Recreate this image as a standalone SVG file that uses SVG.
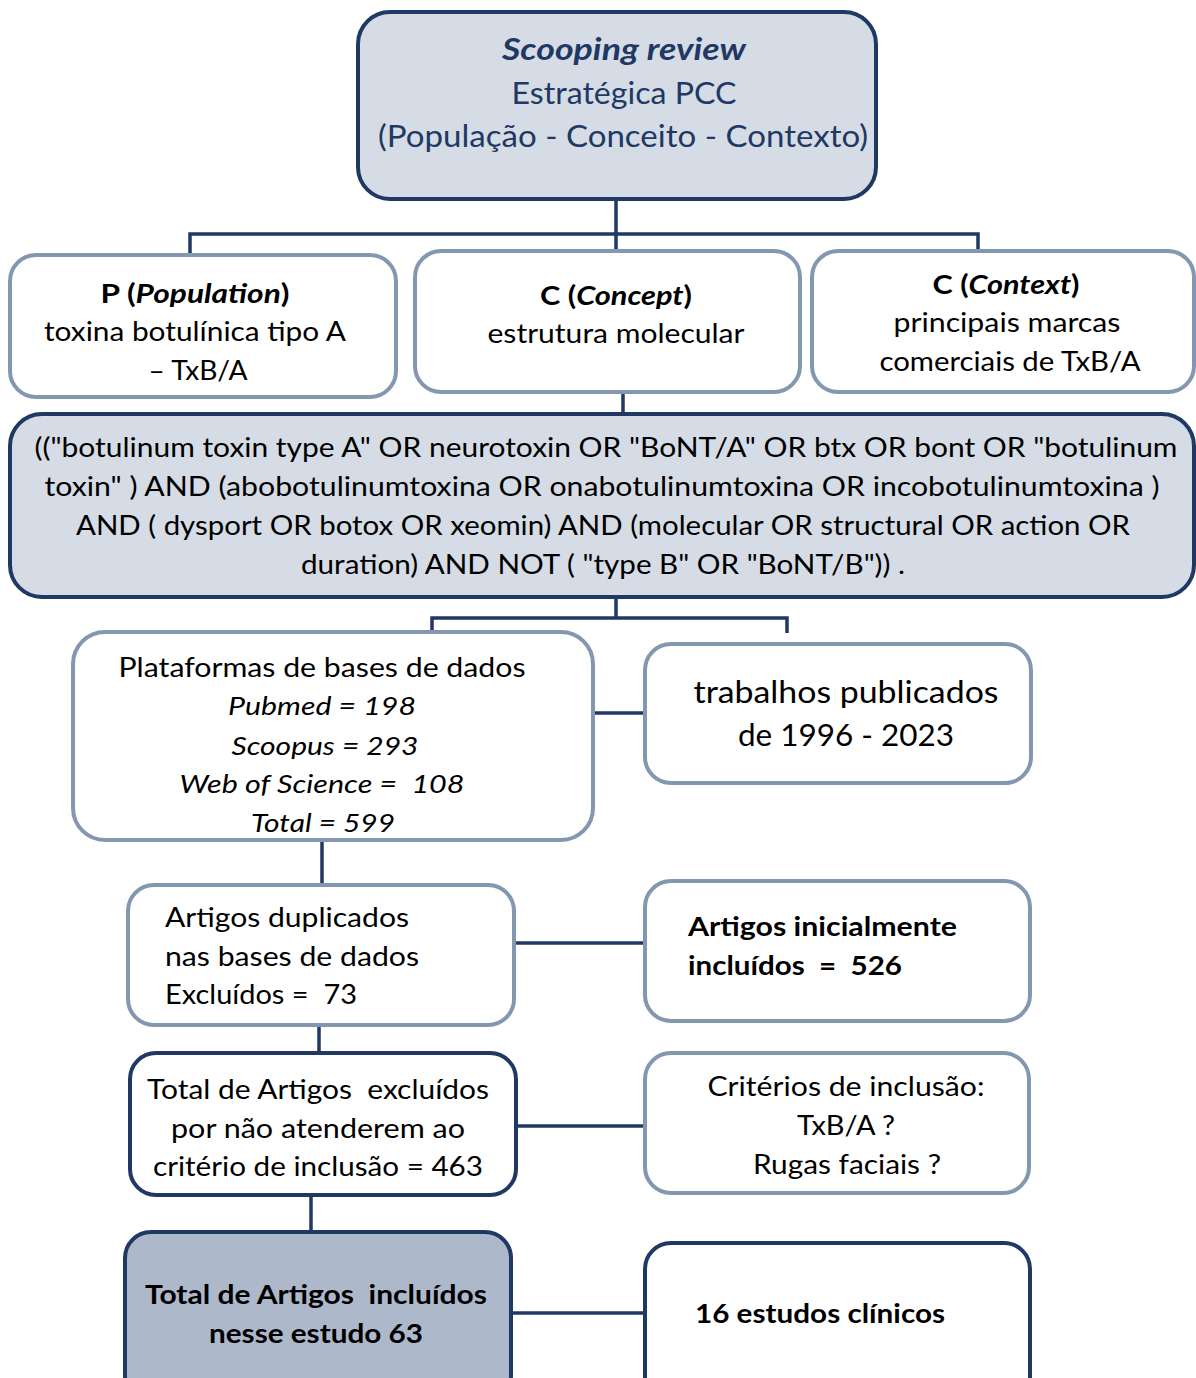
<svg xmlns="http://www.w3.org/2000/svg" width="1196" height="1378" viewBox="0 0 1196 1378">
<style>
text{font-family:Lato,"Open Sans","Liberation Sans",sans-serif;fill:#000;}
.c{text-anchor:middle;}
.s26{font-size:26px;}
.s25{font-size:25px;}
.s28{font-size:28px;}
.s30{font-size:30px;}
.b{font-weight:bold;}
.i{font-style:italic;}
.navy{fill:#1f3864;}
.dark{fill:#d6dce5;stroke:#203864;stroke-width:4;}
.light{fill:#ffffff;stroke:#8497b0;stroke-width:4;}
.strong{fill:#ffffff;stroke:#203864;stroke-width:4;}
.final{fill:#adb9ca;stroke:#203864;stroke-width:4;}
.conn{fill:none;stroke:#203864;stroke-width:3.5;}
</style>
<rect width="1196" height="1378" fill="#ffffff"/>
<g id="connectors">
<path class="conn" d="M616 199 V234 M190 255 V234 H978 V251 M616 234 V251"/>
<path class="conn" d="M623 392 V414"/>
<path class="conn" d="M616 597 V618 M432 632 V618 H787 V633"/>
<path class="conn" d="M593 713 H645"/>
<path class="conn" d="M322 840 V885"/>
<path class="conn" d="M514 943 H645"/>
<path class="conn" d="M319 1025 V1053"/>
<path class="conn" d="M516 1126 H645"/>
<path class="conn" d="M311 1195 V1232"/>
<path class="conn" d="M511 1313 H645"/>
</g>
<g id="node-scoping">
<rect class="dark" x="358" y="12" width="518" height="187" rx="32"/>
<text class="c s30 b i navy" x="624" y="60" textLength="244" lengthAdjust="spacingAndGlyphs">Scooping review</text>
<text class="c s30 navy" x="624" y="104" textLength="225" lengthAdjust="spacingAndGlyphs">Estratégica PCC</text>
<text class="c s30 navy" x="623" y="147" textLength="490" lengthAdjust="spacingAndGlyphs">(População - Conceito - Contexto)</text>
</g>
<g id="node-population">
<rect class="light" x="10" y="255" width="386" height="142" rx="26"/>
<text class="c s26" x="195" y="303" textLength="189" lengthAdjust="spacingAndGlyphs"><tspan class="b">P (</tspan><tspan class="b i">Population</tspan><tspan class="b">)</tspan></text>
<text class="c s26" x="195" y="341" textLength="302" lengthAdjust="spacingAndGlyphs">toxina botulínica tipo A</text>
<text class="c s26" x="198" y="380" textLength="99" lengthAdjust="spacingAndGlyphs">– TxB/A</text>
</g>
<g id="node-concept">
<rect class="light" x="415" y="251" width="385" height="141" rx="26"/>
<text class="c s26" x="616" y="305" textLength="152" lengthAdjust="spacingAndGlyphs"><tspan class="b">C (</tspan><tspan class="b i">Concept</tspan><tspan class="b">)</tspan></text>
<text class="c s26" x="616" y="343" textLength="257" lengthAdjust="spacingAndGlyphs">estrutura molecular</text>
</g>
<g id="node-context">
<rect class="light" x="812" y="251" width="382" height="141" rx="26"/>
<text class="c s26" x="1006" y="294" textLength="147" lengthAdjust="spacingAndGlyphs"><tspan class="b">C (</tspan><tspan class="b i">Context</tspan><tspan class="b">)</tspan></text>
<text class="c s26" x="1007" y="332" textLength="227" lengthAdjust="spacingAndGlyphs">principais marcas</text>
<text class="c s26" x="1010" y="371" textLength="261" lengthAdjust="spacingAndGlyphs">comerciais de TxB/A</text>
</g>
<g id="node-query">
<rect class="dark" x="10" y="414" width="1184" height="183" rx="32"/>
<text class="c s26" x="606" y="457" textLength="1143" lengthAdjust="spacingAndGlyphs">(("botulinum toxin type A" OR neurotoxin OR "BoNT/A" OR btx OR bont OR "botulinum</text>
<text class="c s26" x="602" y="496" textLength="1115" lengthAdjust="spacingAndGlyphs">toxin" ) AND (abobotulinumtoxina OR onabotulinumtoxina OR incobotulinumtoxina )</text>
<text class="c s26" x="603" y="535" textLength="1054" lengthAdjust="spacingAndGlyphs">AND ( dysport OR botox OR xeomin) AND (molecular OR structural OR action OR</text>
<text class="c s26" x="603" y="574" textLength="604" lengthAdjust="spacingAndGlyphs">duration) AND NOT ( "type B" OR "BoNT/B")) .</text>
</g>
<g id="node-plataformas">
<rect class="light" x="73" y="632" width="520" height="208" rx="32"/>
<text class="c s26" x="322" y="677" textLength="407" lengthAdjust="spacingAndGlyphs">Plataformas de bases de dados</text>
<text class="c s26 i" x="322" y="715" textLength="188" lengthAdjust="spacingAndGlyphs">Pubmed = 198</text>
<text class="c s26 i" x="325" y="755" textLength="187" lengthAdjust="spacingAndGlyphs">Scoopus = 293</text>
<text class="c s26 i" x="322" y="793" textLength="285" lengthAdjust="spacingAndGlyphs" xml:space="preserve">Web of Science =  108</text>
<text class="c s26 i" x="323" y="832" textLength="144" lengthAdjust="spacingAndGlyphs">Total = 599</text>
</g>
<g id="node-trabalhos">
<rect class="light" x="645" y="644" width="386" height="139" rx="26"/>
<text class="c s30" x="846" y="703" textLength="305" lengthAdjust="spacingAndGlyphs">trabalhos publicados</text>
<text class="c s30" x="846" y="746" textLength="216" lengthAdjust="spacingAndGlyphs">de 1996 - 2023</text>
</g>
<g id="node-duplicados">
<rect class="light" x="128" y="885" width="386" height="140" rx="26"/>
<text class="s26" x="165" y="927" textLength="244" lengthAdjust="spacingAndGlyphs">Artigos duplicados</text>
<text class="s26" x="165" y="966" textLength="254" lengthAdjust="spacingAndGlyphs">nas bases de dados</text>
<text class="s26" x="165" y="1004" textLength="192" lengthAdjust="spacingAndGlyphs" xml:space="preserve">Excluídos =  73</text>
</g>
<g id="node-inicialmente">
<rect class="light" x="645" y="881" width="385" height="140" rx="26"/>
<text class="s26 b" x="688" y="936" textLength="269" lengthAdjust="spacingAndGlyphs">Artigos inicialmente</text>
<text class="s26 b" x="688" y="975" textLength="214" lengthAdjust="spacingAndGlyphs" xml:space="preserve">incluídos  =  526</text>
</g>
<g id="node-excluidos">
<rect class="strong" x="130" y="1053" width="386" height="142" rx="26"/>
<text class="c s26" x="318" y="1099" textLength="342" lengthAdjust="spacingAndGlyphs" xml:space="preserve">Total de Artigos  excluídos</text>
<text class="c s26" x="318" y="1138" textLength="294" lengthAdjust="spacingAndGlyphs">por não atenderem ao</text>
<text class="c s26" x="318" y="1176" textLength="330" lengthAdjust="spacingAndGlyphs">critério de inclusão = 463</text>
</g>
<g id="node-criterios">
<rect class="light" x="645" y="1053" width="384" height="140" rx="26"/>
<text class="c s26" x="846" y="1096" textLength="277" lengthAdjust="spacingAndGlyphs">Critérios de inclusão:</text>
<text class="c s26" x="846" y="1135" textLength="98" lengthAdjust="spacingAndGlyphs">TxB/A ?</text>
<text class="c s26" x="847" y="1174" textLength="188" lengthAdjust="spacingAndGlyphs">Rugas faciais ?</text>
</g>
<g id="node-incluidos">
<rect class="final" x="125" y="1232" width="386" height="170" rx="26"/>
<text class="c s26 b" x="316" y="1304" textLength="342" lengthAdjust="spacingAndGlyphs" xml:space="preserve">Total de Artigos  incluídos</text>
<text class="c s26 b" x="316" y="1343" textLength="214" lengthAdjust="spacingAndGlyphs">nesse estudo 63</text>
</g>
<g id="node-estudos">
<rect class="strong" x="645" y="1243" width="385" height="170" rx="26"/>
<text class="s26 b" x="695" y="1323" textLength="250" lengthAdjust="spacingAndGlyphs">16 estudos clínicos</text>
</g>
</svg>
